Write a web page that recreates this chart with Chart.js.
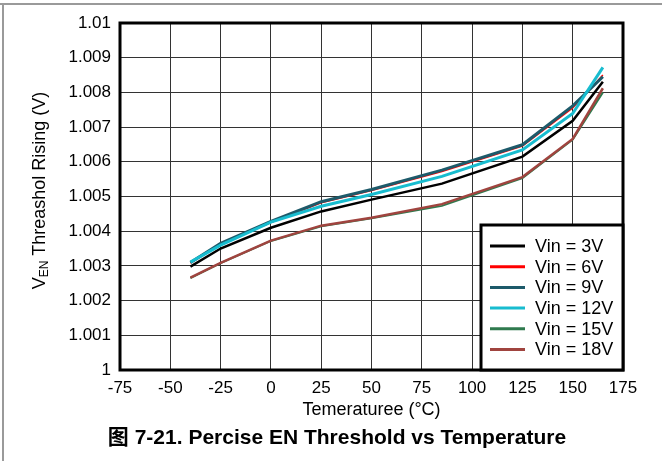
<!DOCTYPE html>
<html>
<head>
<meta charset="utf-8">
<script src="https://cdn.jsdelivr.net/npm/chart.js@4.4.1/dist/chart.umd.min.js"></script>
<style>
    html, body { margin: 0; padding: 0; background: #fff; }
    #wrap { position: relative; width: 662px; height: 461px; }
</style>
</head>
<body>
<div id="wrap"><canvas id="chart" width="662" height="461"></canvas></div>
<script>
// ===== EN threshold rising vs temperature =====

const temps = [-40, -25, 0, 25, 50, 85, 125, 150, 165];

const vin3V  = [1.00298, 1.00350, 1.00410, 1.00457, 1.00491, 1.00537, 1.00615, 1.00718, 1.00831];
const vin6V  = [1.00308, 1.00362, 1.00425, 1.00482, 1.00517, 1.00572, 1.00645, 1.00755, 1.00850];
const vin9V  = [1.00310, 1.00365, 1.00428, 1.00485, 1.00520, 1.00576, 1.00649, 1.00761, 1.00845];
const vin12V = [1.00311, 1.00360, 1.00426, 1.00472, 1.00506, 1.00558, 1.00634, 1.00739, 1.00872];
const vin15V = [1.00265, 1.00308, 1.00372, 1.00414, 1.00437, 1.00473, 1.00553, 1.00664, 1.00800];
const vin18V = [1.00266, 1.00309, 1.00373, 1.00416, 1.00439, 1.00478, 1.00556, 1.00666, 1.00812];

const seriesNames = ['Vin = 3V', 'Vin = 6V', 'Vin = 9V', 'Vin = 12V', 'Vin = 15V', 'Vin = 18V'];

const xTicks = [-75, -50, -25, 0, 25, 50, 75, 100, 125, 150, 175];
const yTicks = [1, 1.001, 1.002, 1.003, 1.004, 1.005, 1.006, 1.007, 1.008, 1.009, 1.01];
const yTickLabels = ['1', '1.001', '1.002', '1.003', '1.004', '1.005', '1.006', '1.007', '1.008', '1.009', '1.01'];

const FONT = "'Liberation Sans', Arial, 'Noto Sans CJK SC', sans-serif";

const colors = ['#000000', '#ff0000', '#1d5a6a', '#18bccf', '#2f7a4e', '#a0443f'];
const widths = [2.5, 1.5, 3, 3, 2, 2.5];

function toPoints(vals) {
    return vals.map((v, i) => ({ x: temps[i], y: v }));
}

const allSeries = [vin3V, vin6V, vin9V, vin12V, vin15V, vin18V];

const datasets = allSeries.map((vals, i) => ({
    label: seriesNames[i],
    data: toPoints(vals),
    borderColor: colors[i],
    backgroundColor: colors[i],
    borderWidth: widths[i],
    pointRadius: 0,
    tension: 0,
    // later series drawn on top
    order: allSeries.length - i
}));

// Frame, plot border, titles and legend box
const decorPlugin = {
    id: 'decor',
    beforeDraw(chart) {
        const ctx = chart.ctx;
        ctx.save();
        ctx.fillStyle = '#fff';
        ctx.fillRect(0, 0, chart.width, chart.height);
        ctx.strokeStyle = '#9a9a9a';
        ctx.lineWidth = 2;
        ctx.beginPath();
        ctx.moveTo(0, 4);
        ctx.lineTo(chart.width, 4);
        ctx.moveTo(3, 4);
        ctx.lineTo(3, chart.height);
        ctx.stroke();
        ctx.restore();
    },
    afterDraw(chart) {
        const ctx = chart.ctx;
        const a = chart.chartArea;
        ctx.save();

        // plot border
        ctx.strokeStyle = '#000';
        ctx.lineWidth = 3;
        ctx.strokeRect(a.left, a.top, a.right - a.left, a.bottom - a.top);

        // y title with subscript
        ctx.fillStyle = '#000';
        ctx.textBaseline = 'middle';
        const big = '18px ' + FONT;
        const small = '12px ' + FONT;
        const rest = ' Threashol Rising (V)';
        ctx.font = big;
        const wV = ctx.measureText('V').width;
        const wRest = ctx.measureText(rest).width;
        ctx.font = small;
        const wSub = ctx.measureText('EN').width;
        const total = wV + wSub + wRest;
        ctx.translate(40, (a.top + a.bottom) / 2 - 6);
        ctx.rotate(-Math.PI / 2);
        let x = -total / 2;
        ctx.textAlign = 'left';
        ctx.font = big;
        ctx.fillText('V', x, 0);
        x += wV;
        ctx.font = small;
        ctx.fillText('EN', x, 5);
        x += wSub;
        ctx.font = big;
        ctx.fillText(rest, x, 0);
        ctx.setTransform(1, 0, 0, 1, 0, 0);

        // x title
        ctx.textAlign = 'center';
        ctx.font = '18px ' + FONT;
        ctx.fillText('Temeraturee (°C)', (a.left + a.right) / 2, 410);

        // chart title
        ctx.font = 'bold 21px ' + FONT;
        ctx.fillText('图 7-21. Percise EN Threshold vs Temperature', 337, 438);

        // legend box
        const lx = 481, ly = 225, lr = a.right, lb = a.bottom;
        ctx.fillStyle = '#fff';
        ctx.fillRect(lx, ly, lr - lx, lb - ly);
        ctx.strokeStyle = '#000';
        ctx.lineWidth = 3;
        ctx.strokeRect(lx, ly, lr - lx, lb - ly);
        ctx.font = '18px ' + FONT;
        ctx.textAlign = 'left';
        chart.data.datasets.forEach((ds, i) => {
            const y = 246 + i * 20.7;
            ctx.strokeStyle = ds.borderColor;
            ctx.lineWidth = 3;
            ctx.beginPath();
            ctx.moveTo(490, y);
            ctx.lineTo(525, y);
            ctx.stroke();
            ctx.fillStyle = '#000';
            ctx.fillText(ds.label, 535, y + 1);
        });
        ctx.restore();
    }
};

new Chart(document.getElementById('chart').getContext('2d'), {
    type: 'line',
    data: { datasets },
    options: {
        responsive: false,
        animation: false,
        layout: { padding: { top: 23, right: 39, left: 0, bottom: 0 } },
        plugins: {
            legend: { display: false },
            tooltip: { enabled: false },
            title: { display: false }
        },
        scales: {
            x: {
                type: 'linear',
                min: -75,
                max: 175,
                afterBuildTicks: s => { s.ticks = xTicks.map(v => ({ value: v })); },
                afterFit: s => { s.height = 91; },
                ticks: {
                    color: '#000',
                    font: { family: FONT, size: 17 },
                    padding: 8,
                    maxRotation: 0,
                    autoSkip: false
                },
                grid: { color: '#333333', lineWidth: 1, drawTicks: false },
                border: { display: false }
            },
            y: {
                type: 'linear',
                min: 1,
                max: 1.01,
                afterBuildTicks: s => { s.ticks = yTicks.map(v => ({ value: v })); },
                afterFit: s => { s.width = 120; },
                ticks: {
                    color: '#000',
                    font: { family: FONT, size: 17 },
                    padding: 9,
                    callback: (v, i) => yTickLabels[i]
                },
                grid: { color: '#333333', lineWidth: 1, drawTicks: false },
                border: { display: false }
            }
        }
    },
    plugins: [decorPlugin]
});
</script>
</body>
</html>
